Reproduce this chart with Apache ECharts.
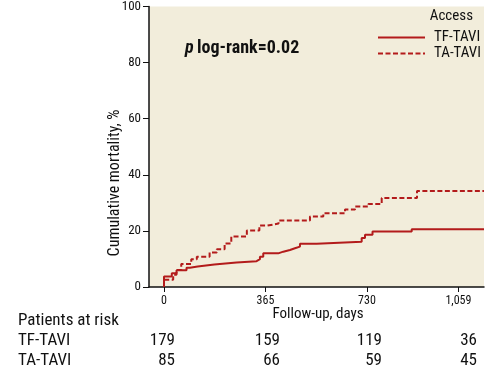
<!DOCTYPE html>
<html><head><meta charset="utf-8">
<script src="https://cdn.jsdelivr.net/npm/echarts@6/dist/echarts.min.js"></script>
<style>html,body{margin:0;padding:0;background:#fff}#c{width:502px;height:373px}</style>
</head><body><div id="c"></div>
<script>
// Kaplan-Meier step data: [day, cumulative mortality %]
const tfDays = [0, 0, 28, 45, 81, 93, 121, 181, 261, 333, 345, 357, 411, 429, 453, 471, 489, 549, 711, 723, 750, 891, 1151];
const tfVals = [0, 3.7, 4.9, 6.0, 6.9, 7.3, 8.0, 8.7, 9.2, 9.9, 10.8, 12.0, 12.6, 13.2, 13.8, 14.4, 15.4, 16.1, 17.5, 18.6, 19.8, 20.6, 20.6];
const taDays = [0, 0, 33, 45, 62, 98, 118, 164, 190, 218, 242, 298, 343, 372, 412, 525, 573, 651, 687, 735, 783, 910, 1151];
const taVals = [0, 2.6, 4.4, 6.1, 8.2, 9.9, 10.8, 12.3, 13.5, 15.5, 18.0, 20.1, 21.9, 22.6, 23.7, 25.1, 26.3, 27.6, 28.7, 29.6, 31.7, 34.2, 34.2];
const seriesNames = ['TF-TAVI', 'TA-TAVI'];
const xTicks = [0, 365, 730, 1059];
const yTicks = [0, 20, 40, 60, 80, 100];
const riskLabel = 'Patients at risk';
const riskTF = [179, 159, 119, 36];
const riskTA = [85, 66, 59, 45];

const FONT = '"Roboto Condensed","DejaVu Sans",sans-serif';
const RED = '#b31b1b';
const INK = '#111';
const riskRight = [175, 280, 382, 477];

const chart = echarts.init(document.getElementById('c'), null, {renderer: 'canvas'});
const pair = (xs, ys) => xs.map((x, i) => [x, ys[i]]);
const fmt = v => v >= 1000 ? String(v).replace(/\B(?=(\d{3})+(?!\d))/g, ',') : String(v);

const graphics = [
  {type: 'text', x: 18, y: 321, style: {text: riskLabel, font: '17px ' + FONT, fill: INK, verticalAlign: 'middle'}},
  {type: 'text', x: 18, y: 341, style: {text: seriesNames[0], font: '17px ' + FONT, fill: INK, verticalAlign: 'middle'}},
  {type: 'text', x: 18, y: 361, style: {text: seriesNames[1], font: '17px ' + FONT, fill: INK, verticalAlign: 'middle'}},
  {type: 'text', x: 318, y: 314, style: {text: 'Follow-up, days', font: '15px ' + FONT, fill: INK, align: 'center', verticalAlign: 'middle'}},
  {type: 'text', x: 115, y: 183, rotation: Math.PI / 2, style: {text: 'Cumulative mortality, %', font: '16px ' + FONT, fill: INK, align: 'center', verticalAlign: 'middle'}},
  {type: 'text', x: 473, y: 16, style: {text: 'Access', font: '15px ' + FONT, fill: INK, align: 'right', verticalAlign: 'middle'}},
  {type: 'text', x: 185, y: 48, style: {
    text: '{i|p} {b|log-rank=0.02}', verticalAlign: 'middle',
    rich: {i: {font: 'italic bold 18px ' + FONT, fill: INK}, b: {font: 'bold 18px ' + FONT, fill: INK}}
  }}
];
riskTF.forEach((v, i) => graphics.push({type: 'text', x: riskRight[i], y: 341, style: {text: String(v), font: '17px ' + FONT, fill: INK, align: 'right', verticalAlign: 'middle'}}));
riskTA.forEach((v, i) => graphics.push({type: 'text', x: riskRight[i], y: 361, style: {text: String(v), font: '17px ' + FONT, fill: INK, align: 'right', verticalAlign: 'middle'}}));

chart.setOption({
  animation: false,
  grid: {left: 149, right: 18, top: 6, bottom: 86, show: true, backgroundColor: '#f2eddb', borderWidth: 0},
  legend: {
    data: seriesNames, orient: 'vertical', left: 372, top: 25, itemWidth: 47, itemHeight: 14, itemGap: 1,
    itemStyle: {opacity: 0},
    textStyle: {fontFamily: FONT, fontSize: 15, color: INK, padding: [0, 0, 0, 4]}
  },
  xAxis: {
    type: 'value', min: -54, max: 1151,
    axisLine: {show: true, onZero: false, lineStyle: {color: INK, width: 1.5}},
    axisTick: {show: true, length: 5, customValues: xTicks, lineStyle: {color: INK}},
    axisLabel: {customValues: xTicks, formatter: fmt, fontFamily: FONT, fontSize: 12, color: INK, margin: 8},
    splitLine: {show: false}
  },
  yAxis: {
    type: 'value', min: 0, max: 100, interval: 20,
    axisLine: {show: true, onZero: false, lineStyle: {color: INK, width: 1.5}},
    axisTick: {show: true, length: 6, lineStyle: {color: INK}},
    axisLabel: {fontFamily: FONT, fontSize: 13, color: INK, margin: 8},
    splitLine: {show: false}
  },
  series: [
    {name: seriesNames[0], type: 'line', step: 'end', symbol: 'none', data: pair(tfDays, tfVals),
     lineStyle: {color: RED, width: 2}, itemStyle: {color: RED}},
    {name: seriesNames[1], type: 'line', step: 'end', symbol: 'none', data: pair(taDays, taVals),
     lineStyle: {color: RED, width: 2, type: [5, 2.5]}, itemStyle: {color: RED}}
  ],
  graphic: graphics
});
</script></body></html>
